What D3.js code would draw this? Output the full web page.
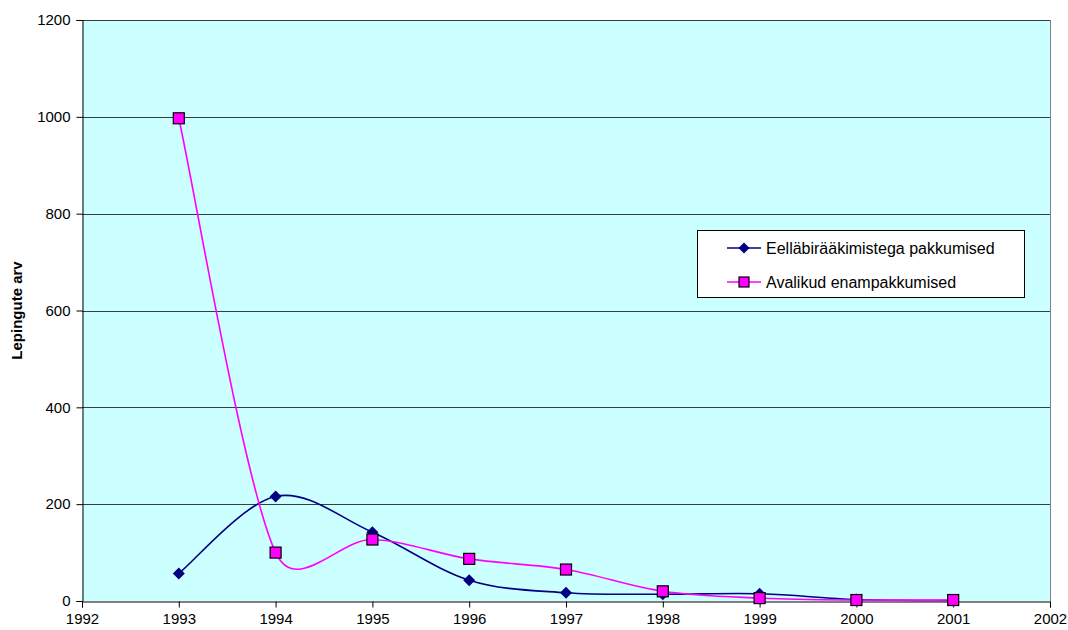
<!DOCTYPE html>
<html>
<head>
<meta charset="utf-8">
<script src="https://cdn.jsdelivr.net/npm/d3@7"></script>
<style>
  html, body { margin: 0; padding: 0; background: #fff; }
  svg { display: block; font-family: "Liberation Sans", Arial, sans-serif; }
</style>
</head>
<body>
<svg id="chart" width="1068" height="630"></svg>
<script>
// Contract counts by year
const years = [1993, 1994, 1995, 1996, 1997, 1998, 1999, 2000, 2001];
const negotiated = [57, 216, 142, 43, 17, 14, 15, 3, 1];
const publicAuction = [997, 100, 127, 87, 65, 20, 6, 2, 2];
const seriesNames = ["Eelläbirääkimistega pakkumised", "Avalikud enampakkumised"];
const xTicks = [1992, 1993, 1994, 1995, 1996, 1997, 1998, 1999, 2000, 2001, 2002];
const yTicks = [0, 200, 400, 600, 800, 1000, 1200];
const yTitle = "Lepingute arv";

const svg = d3.select("#chart");
const plot = { left: 82, top: 20, right: 1050, bottom: 601 };

const x = d3.scaleLinear().domain([1992, 2002]).range([plot.left, plot.right]);
const y = d3.scaleLinear().domain([0, 1200]).range([plot.bottom, plot.top]);

// plot background
svg.append("rect")
  .attr("x", plot.left).attr("y", plot.top)
  .attr("width", plot.right - plot.left).attr("height", plot.bottom - plot.top)
  .attr("fill", "#ccffff");

// horizontal gridlines
svg.append("g").selectAll("line").data(yTicks.filter(d => d > 0)).join("line")
  .attr("x1", plot.left).attr("x2", plot.right)
  .attr("y1", d => Math.round(y(d)) + 0.5).attr("y2", d => Math.round(y(d)) + 0.5)
  .attr("stroke", "#000").attr("stroke-width", 1).attr("stroke-opacity", 0.75);

// right border
svg.append("line")
  .attr("x1", plot.right + 0.5).attr("x2", plot.right + 0.5)
  .attr("y1", plot.top).attr("y2", plot.bottom)
  .attr("stroke", "#808080");

// axes
const yAxis = d3.axisLeft(y).tickValues(yTicks).tickSize(6).tickPadding(6).tickFormat(d3.format("d"));
const xAxis = d3.axisBottom(x).tickValues(xTicks).tickSize(6).tickPadding(6).tickFormat(d3.format("d"));

const gy = svg.append("g").attr("transform", `translate(${plot.left + 0.5},0)`).call(yAxis);
const gx = svg.append("g").attr("transform", `translate(0,${plot.bottom + 0.5})`).call(xAxis);
[gy, gx].forEach(g => {
  g.select(".domain").attr("stroke", "#000");
  g.selectAll(".tick line").attr("stroke", "#000");
  g.selectAll(".tick text").attr("fill", "#000").attr("font-size", 15);
});

// y axis title
svg.append("text")
  .attr("transform", `translate(22,${(plot.top + plot.bottom) / 2}) rotate(-90)`)
  .attr("text-anchor", "middle")
  .attr("font-size", 15).attr("font-weight", "bold")
  .text(yTitle);

// Smoothed curve: Catmull-Rom tangents whose Bezier handles are limited
// to half of the neighbouring segment, which keeps overshoot modest.
function curveSmoothLimited(context) {
  let pts = [];
  return {
    areaStart() {}, areaEnd() {},
    lineStart() { pts = []; },
    point(px, py) { pts.push([+px, +py]); },
    lineEnd() {
      const n = pts.length;
      if (!n) return;
      context.moveTo(pts[0][0], pts[0][1]);
      if (n === 1) return;
      const tan = pts.map((p, i) => {
        const a = pts[Math.max(0, i - 1)], b = pts[Math.min(n - 1, i + 1)];
        return [(b[0] - a[0]) / 6, (b[1] - a[1]) / 6];
      });
      const handle = (t, seg) => {
        const len = Math.hypot(t[0], t[1]);
        const cap = 0.5 * seg;
        const s = len > cap && len > 0 ? cap / len : 1;
        return [t[0] * s, t[1] * s];
      };
      for (let i = 0; i < n - 1; i++) {
        const p0 = pts[i], p1 = pts[i + 1];
        const seg = Math.hypot(p1[0] - p0[0], p1[1] - p0[1]);
        const h0 = handle(tan[i], seg), h1 = handle(tan[i + 1], seg);
        context.bezierCurveTo(p0[0] + h0[0], p0[1] + h0[1], p1[0] - h1[0], p1[1] - h1[1], p1[0], p1[1]);
      }
    }
  };
}

const line = d3.line().x(d => x(d[0])).y(d => y(d[1])).curve(curveSmoothLimited);

const dataA = years.map((yr, i) => [yr, negotiated[i]]);
const dataB = years.map((yr, i) => [yr, publicAuction[i]]);

const diamond = (cx, cy, r) => `M${cx},${cy - r}L${cx + r},${cy}L${cx},${cy + r}L${cx - r},${cy}Z`;

// series lines
svg.append("path").datum(dataA).attr("d", line)
  .attr("fill", "none").attr("stroke", "#000080").attr("stroke-width", 1.6);
svg.append("path").datum(dataB).attr("d", line)
  .attr("fill", "none").attr("stroke", "#ff00ff").attr("stroke-width", 1.6);

// markers
svg.append("g").selectAll("path").data(dataA).join("path")
  .attr("d", d => diamond(x(d[0]), y(d[1]), 6))
  .attr("fill", "#000080");
svg.append("g").selectAll("rect").data(dataB).join("rect")
  .attr("x", d => x(d[0]) - 5.5).attr("y", d => y(d[1]) - 5.5)
  .attr("width", 11).attr("height", 11)
  .attr("fill", "#ff00ff").attr("stroke", "#000").attr("stroke-width", 1.2);

// legend
const lg = svg.append("g");
lg.append("rect").attr("x", 697.5).attr("y", 230.5).attr("width", 327).attr("height", 67)
  .attr("fill", "#fff").attr("stroke", "#000").attr("stroke-width", 1);
const rows = [
  { name: seriesNames[0], color: "#000080", mark: "diamond", yy: 248 },
  { name: seriesNames[1], color: "#ff00ff", mark: "square", yy: 282 }
];
rows.forEach(r => {
  lg.append("line").attr("x1", 727).attr("x2", 761).attr("y1", r.yy).attr("y2", r.yy)
    .attr("stroke", r.color).attr("stroke-width", 1.6);
  if (r.mark === "diamond") {
    lg.append("path").attr("d", diamond(744, r.yy, 5.5)).attr("fill", r.color);
  } else {
    lg.append("rect").attr("x", 739).attr("y", r.yy - 5).attr("width", 10).attr("height", 10)
      .attr("fill", r.color).attr("stroke", "#000").attr("stroke-width", 1.2);
  }
  lg.append("text").attr("x", 766).attr("y", r.yy).attr("dy", "0.35em")
    .attr("font-size", 16).attr("fill", "#000").text(r.name);
});
</script>
</body>
</html>
